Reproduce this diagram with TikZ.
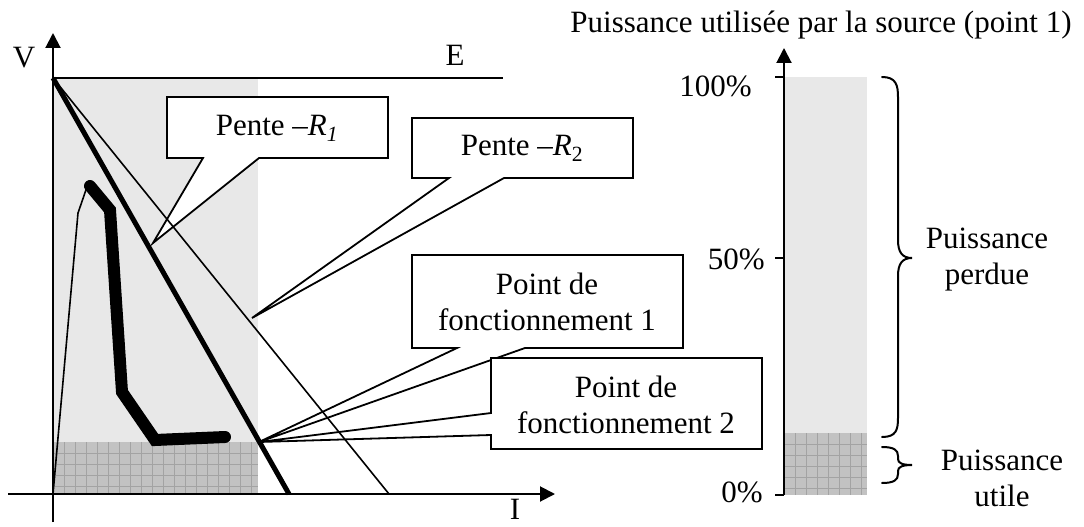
\documentclass[tikz,border=0pt]{standalone}
\usepackage{fontspec}
\setmainfont{Liberation Serif}
\usetikzlibrary{arrows.meta}
\begin{document}
\begin{tikzpicture}[x=1pt,y=-1pt,
  every node/.style={font=\fontsize{31}{36}\selectfont, inner sep=0pt},
  axis/.style={line width=2pt, -{Triangle[length=15pt,width=15pt]}},
  thinl/.style={line width=1.6pt},
  callout/.style={draw, line width=1.8pt, fill=white, line join=miter},
  lightfill/.style={fill=black!9},
  darkfill/.style={fill=black!24},
  gridl/.style={black!36, line width=0.6pt},
  bracel/.style={line width=2pt, line cap=round},
  ]
\useasboundingbox (0,0) rectangle (1084,527);
\fill[white] (0,0) rectangle (1084,527);
% shading, left chart
\fill[lightfill] (53,78) rectangle (258,442);
\fill[darkfill] (53,442) rectangle (258,494);
\foreach \x in {64,75,...,254} \draw[gridl] (\x,442) -- (\x,494);
\foreach \y in {453,464,...,490} \draw[gridl] (53,\y) -- (258,\y);
% shading, right bar
\fill[lightfill] (784,77) rectangle (867,433);
\fill[darkfill] (784,433) rectangle (867,495);
\foreach \x in {795,806,...,864} \draw[gridl] (\x,433) -- (\x,495);
\foreach \y in {444,455,...,492} \draw[gridl] (784,\y) -- (867,\y);
% named points
\coordinate (top) at (53,78);
\coordinate (P) at (259,442);
\coordinate (t1) at (153,243);
\coordinate (t2) at (252,318);
\coordinate (a1) at (289,494);
\coordinate (a2) at (389,494);
\coordinate (Eend) at (503,78);
% callouts
\draw[callout] (167,97) -- (388,97) -- (388,158) -- (259,158) -- (t1) -- (203,158) -- (167,158) -- cycle;
\node (r1) at (277,128) {Pente \textendash\textit{R\textsubscript{1}}};
\draw[callout] (412,118) -- (633,118) -- (633,178) -- (504,178) -- (t2) -- (449,178) -- (412,178) -- cycle;
\node (r2) at (522,148) {Pente \textendash\textit{R}\textsubscript{2}};
\draw[callout] (412,255) -- (683,255) -- (683,348) -- (525,348) -- (P) -- (457,348) -- (412,348) -- cycle;
\node[align=center] (pf1) at (547,302) {Point de\\fonctionnement 1};
\draw[callout] (491,358) -- (762,358) -- (762,449) -- (491,449) -- (491,435) -- (P) -- (491,413) -- cycle;
\node[align=center] (pf2) at (626,405) {Point de\\fonctionnement 2};
% graph lines
\draw[line width=2pt] (top) -- (Eend);
\draw[line width=5pt] (top) -- (a1);
\draw[thinl] (top) -- (a2);
\draw[thinl] (53,494) -- (78,213) -- (88,184);
\draw[line width=12pt, line join=miter, line cap=round] (90,186) -- (110,210) -- (122,392) -- (155,440) -- (225,437);
% axes
\draw[axis] (53,522) -- (53,33);
\draw[axis] (8,494) -- (555,494);
\node (V) at (24,58) {V};
\node (E) at (455,55) {E};
\node[anchor=base] (I) at (515,519) {I};
% right chart
\node (title) at (821,25) {Puissance utilisée par la source (point 1)};
\draw[axis] (784,495) -- (784,48);
\draw[line width=2pt] (775,77) -- (784,77);
\draw[line width=2pt] (775,258) -- (784,258);
\draw[line width=2pt] (775,495) -- (784,495);
\node[anchor=east] (p100) at (752,86) {100\%};
\node[anchor=east] (p50) at (765,259) {50\%};
\node[anchor=east] (p0) at (763,492) {0\%};
% braces
\draw[bracel] (882,77) .. controls (896,77) and (898,85) .. (898,97) -- (898,240) .. controls (898,252) and (902,258) .. (912,258) .. controls (902,258) and (898,264) .. (898,276) -- (898,418) .. controls (898,430) and (896,437) .. (882,437);
\draw[bracel] (882,447) .. controls (894,447) and (898,450) .. (898,456) -- (898,459) .. controls (898,463) and (902,465) .. (912,465) .. controls (902,465) and (898,467) .. (898,471) -- (898,474) .. controls (898,480) and (894,483) .. (882,483);
\node[align=center] (perdue) at (987,260) {Puissance\\perdue};
\node[align=center] (utile) at (1002,478) {Puissance\\utile};
\end{tikzpicture}
\end{document}
